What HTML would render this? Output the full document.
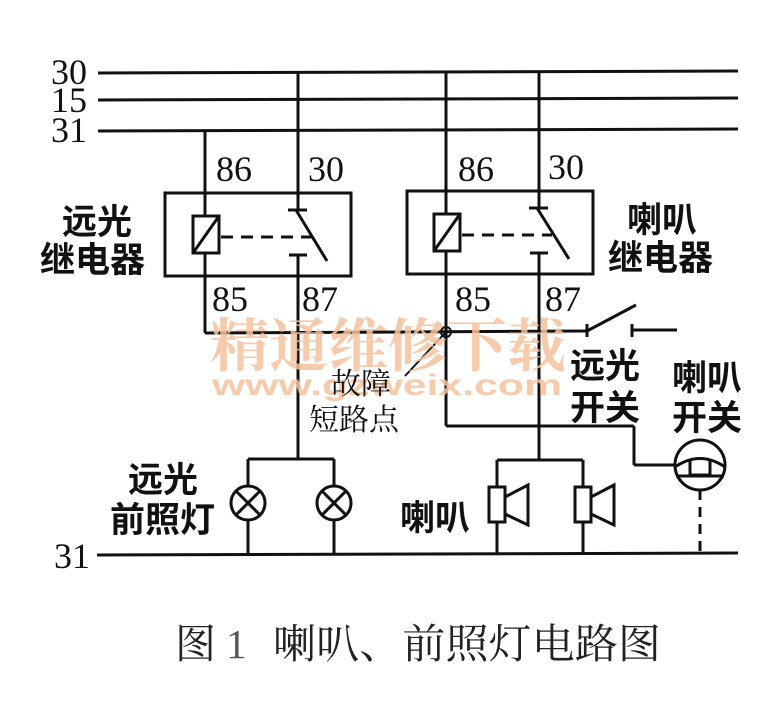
<!DOCTYPE html>
<html><head><meta charset="utf-8"><style>
html,body{margin:0;padding:0;background:#fff;width:781px;height:714px;overflow:hidden}
svg{display:block}
.n{font-family:"Liberation Serif","Noto Serif CJK SC",serif;font-size:36px;fill:#111}
.c{font-family:"Liberation Sans","Noto Sans CJK SC",sans-serif;font-size:35px;font-weight:bold;fill:#111}
.s{font-family:"Liberation Serif","Noto Serif CJK SC",serif;font-size:30px;fill:#111}
</style></head><body>
<svg width="781" height="714" viewBox="0 0 781 714" xmlns="http://www.w3.org/2000/svg">
<g stroke="#111" stroke-width="3" fill="none">
<line x1="98" y1="73" x2="738" y2="71"/>
<line x1="98" y1="100" x2="738" y2="98"/>
<line x1="98" y1="131" x2="738" y2="129"/>
<line x1="97" y1="555" x2="738" y2="553"/>
<rect x="165" y="193" width="186" height="83"/>
<line x1="205" y1="131" x2="205" y2="216"/>
<rect x="193" y="216" width="26" height="37"/>
<line x1="193" y1="253" x2="219" y2="216"/>
<line x1="205" y1="253" x2="205" y2="333"/>
<line x1="298" y1="73" x2="298" y2="210"/>
<line x1="288" y1="210" x2="307" y2="210"/>
<line x1="296" y1="210" x2="327" y2="261"/>
<line x1="289" y1="255" x2="307" y2="255"/>
<line x1="298" y1="255" x2="298" y2="459"/>
<line x1="221" y1="237" x2="312" y2="237" stroke-dasharray="12,8"/>
<rect x="407" y="191" width="186" height="83"/>
<line x1="446" y1="71" x2="446" y2="214"/>
<rect x="434" y="214" width="26" height="37"/>
<line x1="434" y1="251" x2="460" y2="214"/>
<line x1="446" y1="251" x2="446" y2="426"/>
<line x1="539" y1="71" x2="539" y2="208"/>
<line x1="529" y1="208" x2="548" y2="208"/>
<line x1="537" y1="208" x2="569" y2="259"/>
<line x1="530" y1="253" x2="548" y2="253"/>
<line x1="539" y1="253" x2="539" y2="460"/>
<line x1="462" y1="235" x2="552" y2="235" stroke-dasharray="12,8"/>
<line x1="205" y1="333" x2="587" y2="331"/>
<line x1="587" y1="324" x2="587" y2="337"/>
<line x1="587" y1="331" x2="636" y2="305"/>
<line x1="632" y1="324" x2="632" y2="337"/>
<line x1="632" y1="330" x2="677" y2="330"/>
<line x1="446" y1="332" x2="405" y2="376" stroke-width="2"/>
<line x1="446" y1="426" x2="634" y2="426"/>
<line x1="634" y1="426" x2="634" y2="465"/>
<line x1="634" y1="465" x2="675" y2="465"/>
<circle cx="700" cy="465" r="25"/>
<path d="M675 467 Q700 450 725 467" />
<path d="M690 460 L690 475 L710 475 L710 460"/>
<path d="M676 476 L724 476"/>
<line x1="700" y1="490" x2="700" y2="553" stroke-dasharray="10,7"/>
<line x1="497" y1="460" x2="583" y2="460"/>
<line x1="497" y1="460" x2="497" y2="487"/>
<rect x="489" y="487" width="16" height="35"/>
<path d="M505 497 L528 485 L528 525 L505 514"/>
<line x1="497" y1="522" x2="497" y2="554"/>
<line x1="583" y1="460" x2="583" y2="487"/>
<rect x="575" y="487" width="16" height="35"/>
<path d="M591 497 L614 485 L614 525 L591 514"/>
<line x1="583" y1="522" x2="583" y2="554"/>
<line x1="248" y1="459" x2="334" y2="459"/>
<line x1="248" y1="459" x2="248" y2="486"/>
<circle cx="248" cy="503" r="17"/>
<line x1="236" y1="491" x2="260" y2="515"/><line x1="260" y1="491" x2="236" y2="515"/>
<line x1="248" y1="520" x2="248" y2="555"/>
<line x1="334" y1="459" x2="334" y2="486"/>
<circle cx="334" cy="503" r="17"/>
<line x1="322" y1="491" x2="346" y2="515"/><line x1="346" y1="491" x2="322" y2="515"/>
<line x1="334" y1="520" x2="334" y2="555"/>
<circle cx="446" cy="332" r="5" stroke-width="2"/>
<line x1="440" y1="332" x2="452" y2="332" stroke-width="2"/>
</g>
<text x="210" y="366" font-family="Liberation Serif,'Noto Serif CJK SC',serif" font-size="58" font-weight="bold" fill="#f4c29e" fill-opacity="0.85" textLength="356" lengthAdjust="spacingAndGlyphs">精通维修下载</text>
<text x="212" y="395" font-family="Liberation Sans,sans-serif" font-size="30" font-weight="bold" fill="#f4c29e" fill-opacity="0.85" textLength="350" lengthAdjust="spacingAndGlyphs">www.gzweix.com</text>
<text class="n" x="51" y="84">30</text>
<text class="n" x="51" y="112">15</text>
<text class="n" x="51" y="142">31</text>
<text class="n" x="54" y="568">31</text>
<text class="n" x="216" y="181">86</text>
<text class="n" x="308" y="181">30</text>
<text class="n" x="458" y="181">86</text>
<text class="n" x="548" y="179">30</text>
<text class="n" x="212" y="311">85</text>
<text class="n" x="302" y="311">87</text>
<text class="n" x="455" y="311">85</text>
<text class="n" x="545" y="311">87</text>
<text class="c" x="62" y="234">远光</text>
<text class="c" x="40" y="272">继电器</text>
<text class="c" x="627" y="232">喇叭</text>
<text class="c" x="608" y="270">继电器</text>
<text class="c" x="570" y="378">远光</text>
<text class="c" x="570" y="420">开关</text>
<text class="c" x="672" y="390">喇叭</text>
<text class="c" x="672" y="430">开关</text>
<text class="c" x="128" y="492">远光</text>
<text class="c" x="110" y="532">前照灯</text>
<text class="c" x="400" y="530">喇叭</text>
<text class="s" x="331" y="394">故障</text>
<text class="s" x="309" y="430">短路点</text>
<text x="175" y="658" font-family="'Noto Serif CJK SC','Liberation Serif',serif" font-size="41" fill="#222">图</text>
<text x="226" y="658" font-family="Liberation Serif,serif" font-size="41" fill="#555">1</text>
<text x="273" y="658" font-family="'Noto Serif CJK SC','Liberation Serif',serif" font-size="41" fill="#222" textLength="388" lengthAdjust="spacingAndGlyphs">喇叭、前照灯电路图</text>
</svg>
</body></html>
